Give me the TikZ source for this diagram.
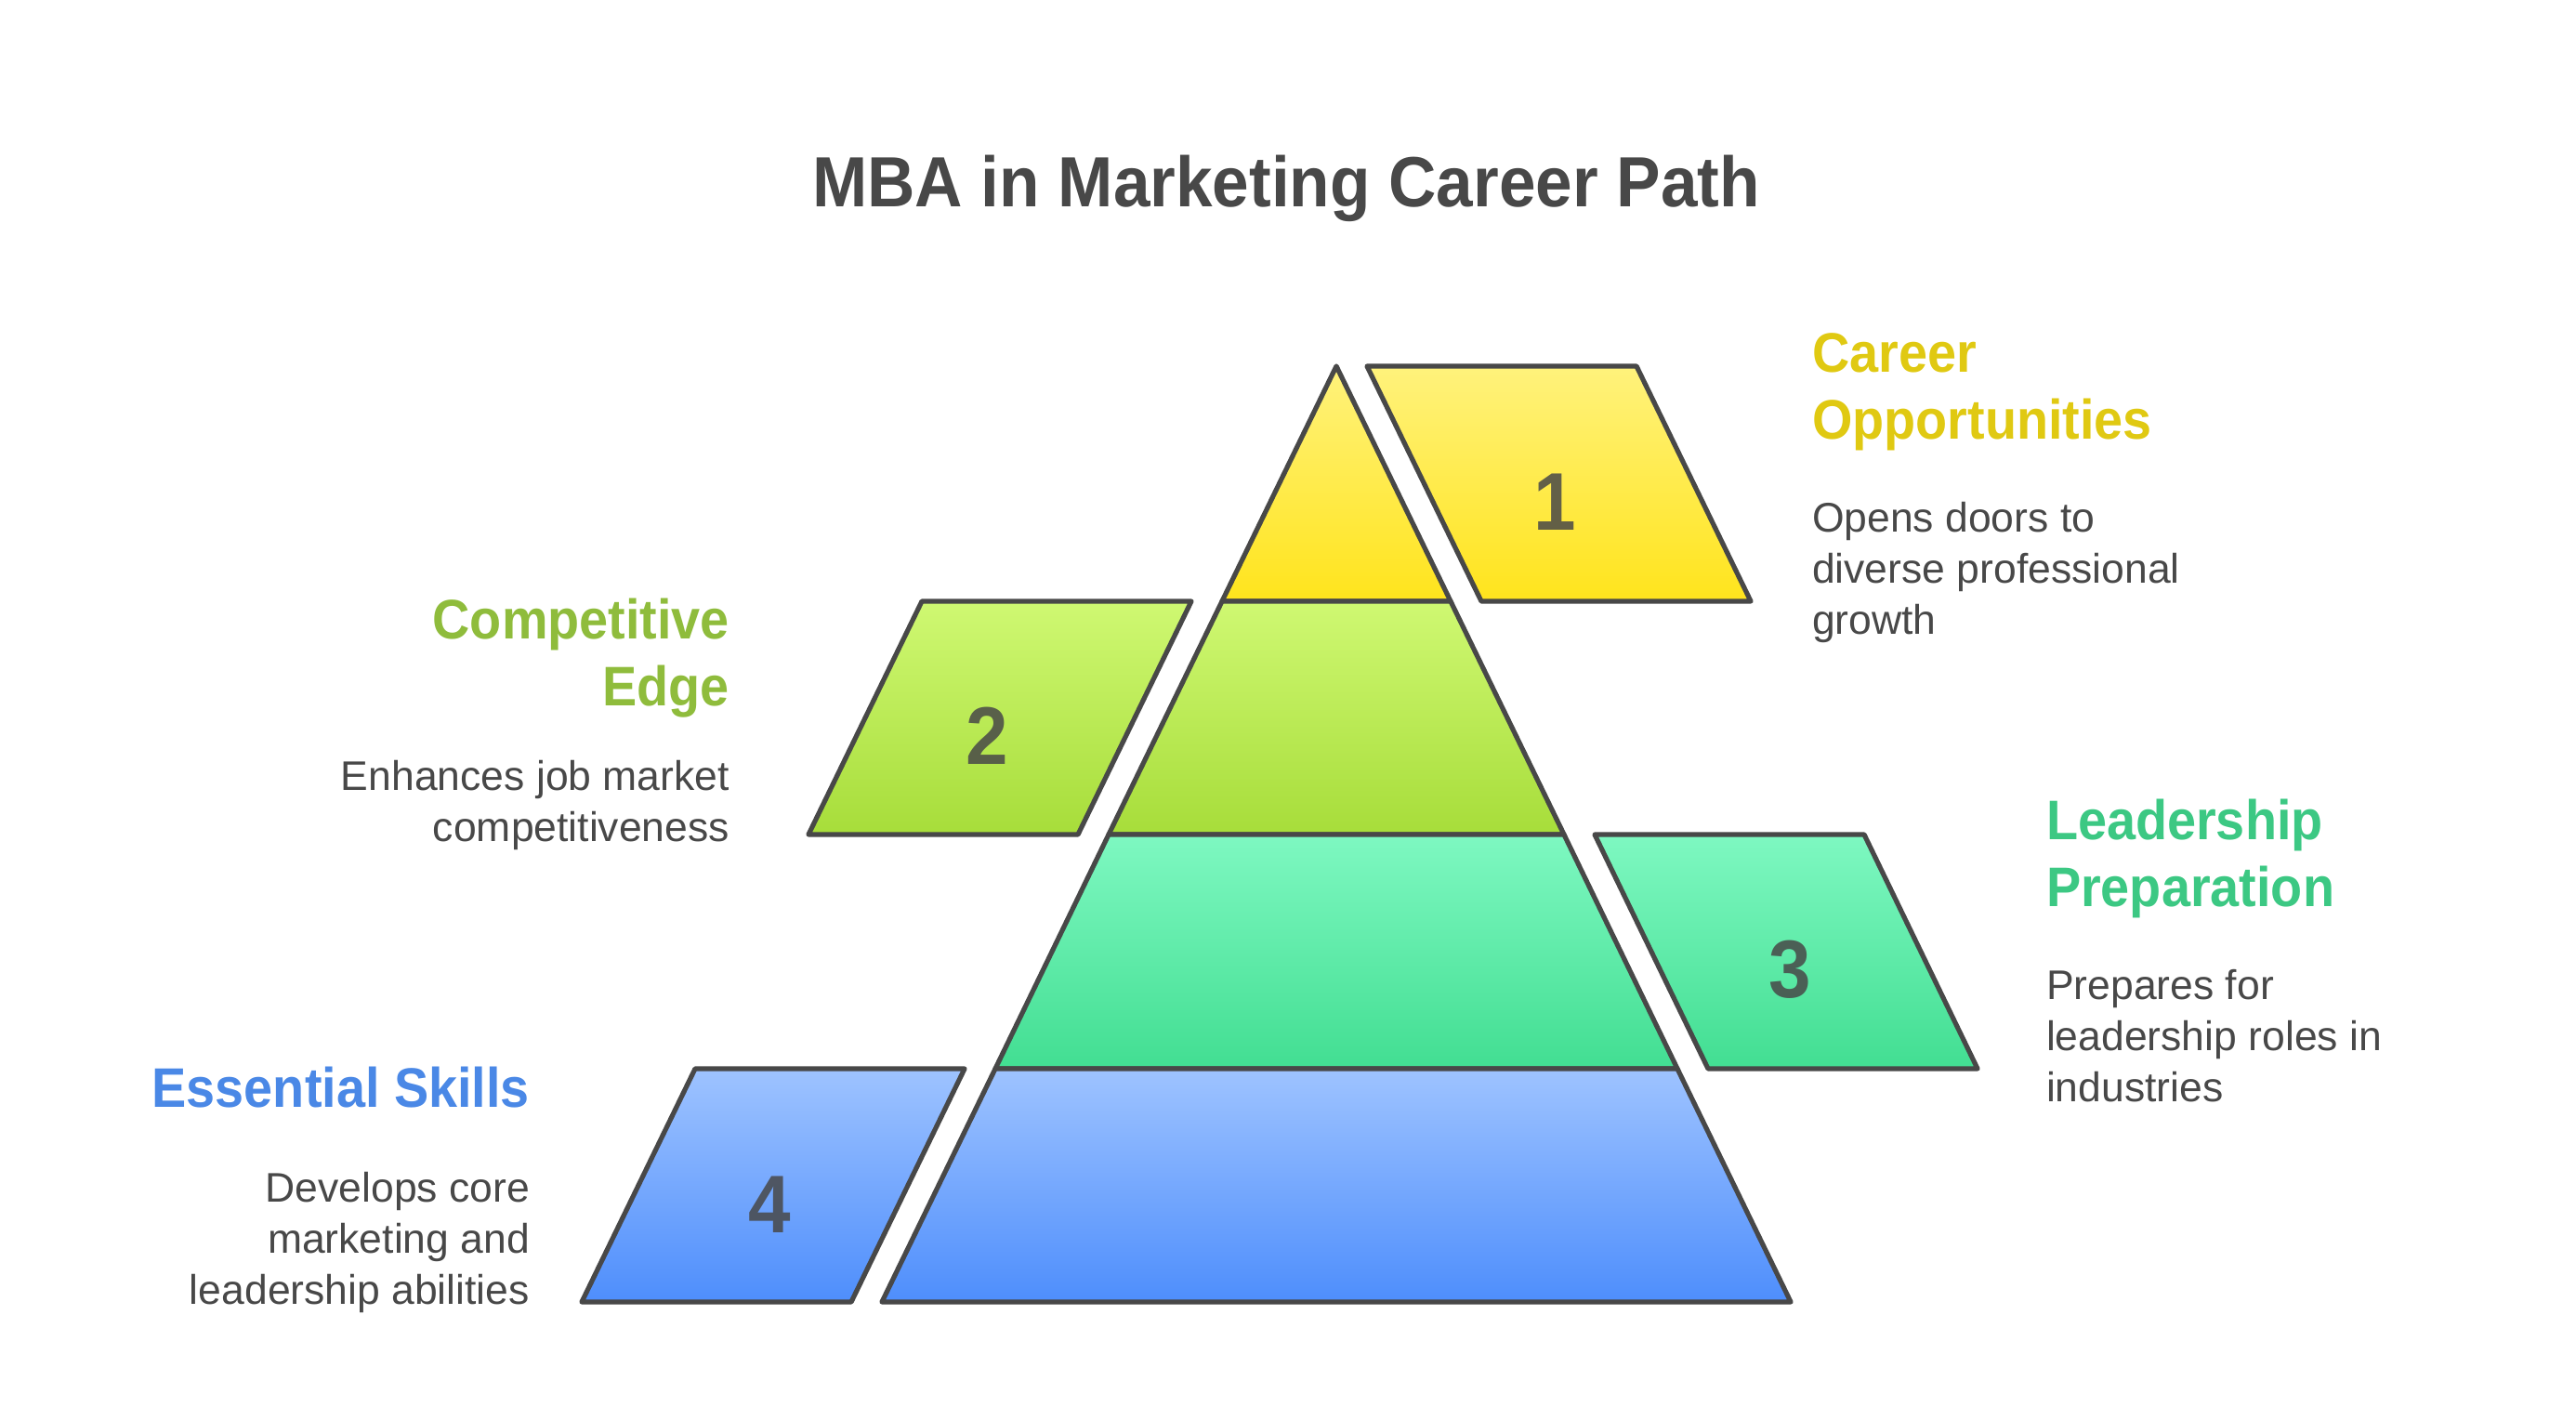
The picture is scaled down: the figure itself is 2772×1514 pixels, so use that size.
\documentclass[tikz,border=0pt]{standalone}
\usepackage{fontspec}
\setmainfont{Liberation Sans}
\newfontfamily\headfont{Liberation Sans}[FakeStretch=0.93]
\definecolor{ink}{HTML}{484848}
\definecolor{ylwA}{HTML}{FFF27C}
\definecolor{ylwB}{HTML}{FFE41C}
\definecolor{grnA}{HTML}{CFF872}
\definecolor{grnB}{HTML}{A7DD3A}
\definecolor{tealA}{HTML}{7EF8C1}
\definecolor{tealB}{HTML}{42DE92}
\definecolor{bluA}{HTML}{9EC3FF}
\definecolor{bluB}{HTML}{4E8EFC}
\definecolor{ylwT}{HTML}{E0C912}
\definecolor{grnT}{HTML}{8FBC3C}
\definecolor{tealT}{HTML}{3CC883}
\definecolor{bluT}{HTML}{4A88E6}
\newcommand\leftlines[1]{\vtop{\halign{##\hfil\cr#1\crcr}}}
\newcommand\rightlines[1]{\vtop{\halign{\hfil##\cr#1\crcr}}}
\begin{document}
\begin{tikzpicture}[x=1pt,y=-1pt,
  outline/.style={draw=ink,line width=5.2pt,line join=round},
  ylw/.style={outline,top color=ylwA,bottom color=ylwB},
  grn/.style={outline,top color=grnA,bottom color=grnB},
  teal/.style={outline,top color=tealA,bottom color=tealB},
  blu/.style={outline,top color=bluA,bottom color=bluB},
  txt/.style={inner sep=0pt,outer sep=0pt},
  titletext/.style={txt,text=ink,font=\headfont\bfseries\fontsize{76.5}{90}\selectfont},
  headtext/.style={txt,font=\headfont\bfseries\fontsize{60}{72}\selectfont},
  desctext/.style={txt,text=ink,font=\fontsize{44.5}{55}\selectfont},
  numtext/.style={txt,text=ink,text opacity=0.85,font=\headfont\bfseries\fontsize{88}{100}\selectfont},
]
\useasboundingbox (0,0) rectangle (2772,1514);

% pyramid layers
\path[ylw]  (1438,394) -- (1561,647) -- (1315,647) -- cycle;
\path[grn]  (1315,647) -- (1561,647) -- (1683,898) -- (1193,898) -- cycle;
\path[teal] (1193,898) -- (1683,898) -- (1805,1150) -- (1071,1150) -- cycle;
\path[blu]  (1071,1150) -- (1805,1150) -- (1927,1401) -- (949,1401) -- cycle;

% side parallelograms
\path[ylw]  (1471,394) -- (1761,394) -- (1884,647) -- (1594,647) -- cycle;
\path[grn]  (992,647) -- (1282,647) -- (1160,898) -- (870,898) -- cycle;
\path[teal] (1716,898) -- (2006,898) -- (2128,1150) -- (1838,1150) -- cycle;
\path[blu]  (748,1150) -- (1038,1150) -- (916,1401) -- (626,1401) -- cycle;

% numbers
\node[numtext] (n1) at (1673,540) {1};
\node[numtext] (n2) at (1062,792) {2};
\node[numtext] (n3) at (1926,1043) {3};
\node[numtext] (n4) at (828,1296) {4};

% title
\node[titletext,anchor=base] (title) at (1384,223) {MBA in Marketing Career Path};

% labels
\node[headtext,text=ylwT,anchor=base west] (h1) at (1950,400) {\leftlines{Career\cr Opportunities}};
\node[desctext,anchor=base west] (d1) at (1950,572) {\leftlines{Opens doors to\cr diverse professional\cr growth}};

\node[headtext,text=grnT,anchor=base east] (h2) at (785,687) {\rightlines{Competitive\cr Edge}};
\node[desctext,anchor=base east] (d2) at (785,850) {\rightlines{Enhances job market\cr competitiveness}};

\node[headtext,text=tealT,anchor=base west] (h3) at (2202,903) {\leftlines{Leadership\cr Preparation}};
\node[desctext,anchor=base west] (d3) at (2202,1075) {\leftlines{Prepares for\cr leadership roles in\cr industries}};

\node[headtext,text=bluT,anchor=base east] (h4) at (570,1191) {\rightlines{Essential Skills}};
\node[desctext,anchor=base east] (d4) at (570,1293) {\rightlines{Develops core\cr marketing and\cr leadership abilities}};
\end{tikzpicture}
\end{document}
